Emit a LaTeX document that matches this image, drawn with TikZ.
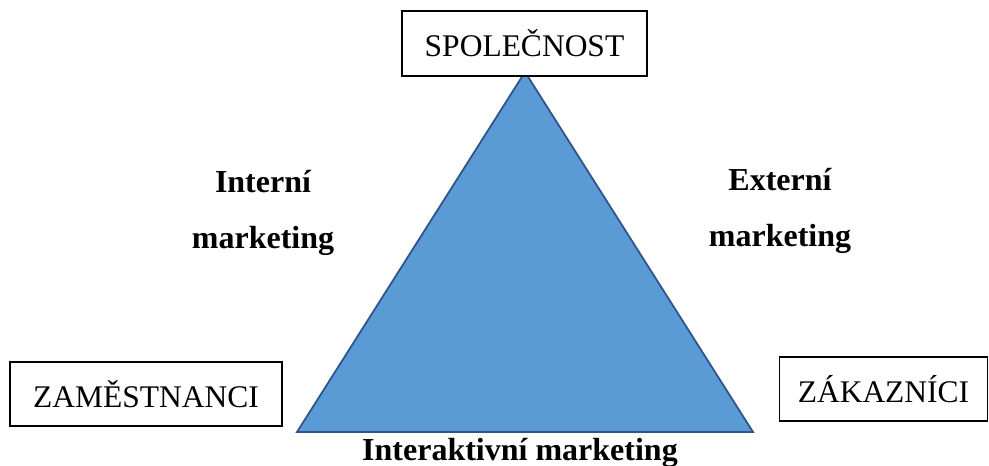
\documentclass[tikz,border=0pt]{standalone}
\usepackage{fontspec}
\setmainfont{Liberation Serif}
\begin{document}
\begin{tikzpicture}[x=1pt,y=-1pt,
  party/.style={draw=black, line width=1.3pt, fill=white, inner sep=0pt,
    font=\fontsize{31.5}{36}\selectfont},
  label/.style={font=\fontsize{32}{56}\selectfont\bfseries, align=center},
]
\useasboundingbox (0,0) rectangle (989,466);
% the triangle of the three parties
\coordinate (top) at (525,72);
\coordinate (bl) at (297,432);
\coordinate (br) at (753,432);
\filldraw[fill={rgb,255:red,91;green,155;blue,213}, draw={rgb,255:red,47;green,85;blue,140}, line width=1.8pt, line join=miter]
  (top) -- (br) -- (bl) -- cycle;
% the three parties
\node[party, minimum width=245pt, minimum height=65pt] (firm) at (524.5,43.5) {SPOLEČNOST};
\node[party, minimum width=272pt, minimum height=64pt] (staff) at (146,394) {ZAMĚSTNANCI};
\node[party, minimum width=208pt, minimum height=64pt] (cust) at (883.5,389) {ZÁKAZNÍCI};
% the three kinds of marketing
\node[label] (internal) at (263,213) {Interní\\marketing};
\node[label] (external) at (780,211) {Externí\\marketing};
\node[label, anchor=base] (interactive) at (520,460.5) {Interaktivní marketing};
\end{tikzpicture}
\end{document}
